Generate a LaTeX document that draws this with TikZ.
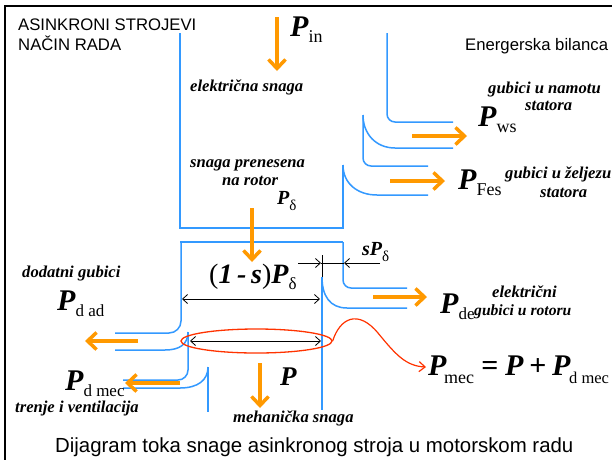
\documentclass[tikz,border=0pt]{standalone}
\usepackage{fontspec}
\setmainfont{Liberation Serif}
\newfontfamily\arialf{Liberation Sans}
\usetikzlibrary{arrows.meta,shapes.geometric}
\definecolor{flowblue}{RGB}{51,153,255}
\definecolor{flowor}{RGB}{255,153,0}
\definecolor{flowred}{RGB}{255,51,0}
\newcommand{\lowsub}[2][18]{\raisebox{-6pt}{\normalfont\fontsize{#1}{#1}\selectfont #2}}
\tikzset{
 wall/.style={draw=flowblue, line width=1.5pt},
 oarrow/.style={draw=flowor, line width=3.5pt, -{Straight Barb[length=9pt,width=17pt]}},
 dim/.style={draw=black, line width=0.8pt},
 dimhead/.style={dim, -{Straight Barb[length=5pt,width=9pt]}},
 dimboth/.style={dim, {Straight Barb[length=5pt,width=9pt]}-{Straight Barb[length=5pt,width=9pt]}},
 head/.style={font=\arialf\fontsize{16.7}{18}\selectfont, anchor=base west, inner sep=0},
 lbl/.style={font=\bfseries\itshape\fontsize{16.6}{17}\selectfont, anchor=base west, inner sep=0},
 bigp/.style={font=\bfseries\itshape\fontsize{30}{30}\selectfont, anchor=base west, inner sep=0},
 midp/.style={font=\bfseries\itshape\fontsize{20}{20}\selectfont, anchor=base west, inner sep=0},
 subs/.style={font=\fontsize{18}{18}\selectfont, anchor=base west, inner sep=0},
}
\begin{document}
\begin{tikzpicture}[x=1pt,y=-1pt]
\useasboundingbox (0,0) rectangle (612,459);
\clip (0,0) rectangle (612,459);
\fill[white] (0,0) rectangle (612,459);
\draw[line width=2pt] (5,470) -- (5,6) -- (620,6);

% stator channel walls
\draw[wall] (180,33) -- (180,228) -- (343,228) -- (343,165);
\draw[wall] (343,165) .. controls (343,183) and (357,195) .. (377,195) -- (428,195);
\draw[wall, rounded corners=8pt] (387,33) -- (387,122) -- (453,122);
\draw[wall] (363,115) .. controls (363,134) and (376,148) .. (395,148) -- (453,148);
\draw[wall, rounded corners=8pt] (363,115) -- (363,166) -- (428,166);
% rotor channel walls
\draw[wall] (180.3,242) -- (343,242);
\draw[wall, rounded corners=8pt] (343,242) -- (343,288) -- (407,288);
\draw[wall] (322,277) .. controls (322,296) and (330,308) .. (347,308) -- (407,308);
\draw[wall] (322,277) -- (322,410);
\draw[wall, rounded corners=12pt] (181,242) -- (181,333) -- (115,333);
\draw[wall] (188,332) .. controls (188,344) and (180,350) .. (165,350) -- (115,350);
\draw[wall, rounded corners=10pt] (188,332) -- (188,380) -- (123,380);
\draw[wall] (208,367) .. controls (208,380) and (198,388) .. (180,388) -- (123,388);
\draw[wall] (208,367) -- (208,412);

% orange flow arrows
\coordinate (pinA) at (277,17);   \coordinate (pinB) at (277,71);
\coordinate (pdA) at (252,208);   \coordinate (pdB) at (252,262);
\coordinate (pA) at (260,363);    \coordinate (pB) at (260,408);
\coordinate (wsA) at (412,136);   \coordinate (wsB) at (467,136);
\coordinate (feA) at (390,181);   \coordinate (feB) at (445,181);
\coordinate (deA) at (373,297);   \coordinate (deB) at (427,297);
\coordinate (adA) at (138,341);   \coordinate (adB) at (85,341);
\coordinate (mcA) at (180,383);   \coordinate (mcB) at (125,383);
\foreach \a/\b in {pinA/pinB,pdA/pdB,pA/pB,wsA/wsB,feA/feB,deA/deB,adA/adB,mcA/mcB}
  \draw[oarrow] (\a) -- (\b);

% black dimension arrows
\coordinate (d1l) at (182,299);  \coordinate (d1r) at (320,299);
\draw[dimboth] (d1l) -- (d1r);
\coordinate (tk1) at (322,255);  \coordinate (tk2) at (322,277);
\draw[dim] (tk1) -- (tk2);
\coordinate (sa) at (298,263); \coordinate (sb) at (321,263);
\coordinate (sc) at (380,263); \coordinate (sd) at (344,263);
\draw[dimhead] (sa) -- (sb);
\draw[dim] (sb) -- (sd);
\draw[dimhead] (sc) -- (sd);
\coordinate (m1) at (190,341); \coordinate (m2) at (321,341);
\draw[dimboth] (m1) -- (m2);

% red ellipse and curved arrow
\node[ellipse, draw=flowred, line width=1.3pt, minimum width=151pt, minimum height=24pt, inner sep=0] (ell) at (256.5,341) {};
\coordinate (pmecTip) at (426,367);
\draw[flowred, line width=1.2pt, -{Straight Barb[length=6pt,width=10pt]}] (ell.east) .. controls (340,318) and (358,309) .. (378,333) .. controls (396,355) and (406,366) .. (pmecTip);

% headers
\node[head] (h1) at (18,30) {ASINKRONI STROJEVI};
\node[head] (h2) at (18,50) {NAČIN RADA};
\node[head] (h3) at (465,50) {Energerska bilanca};
\node[font=\arialf\fontsize{20.4}{22}\selectfont, anchor=base west, inner sep=0] (cap) at (55,452) {Dijagram toka snage asinkronog stroja u motorskom radu};

% stator labels
\node[bigp] (pin) at (290,36) {P\lowsub{in}};
\node[lbl] (el) at (190,91) {električna snaga};
\node[lbl] (sp) at (190,167) {snaga prenesena};
\node[lbl] (nr) at (222,185) {na rotor};
\node[midp] (pdel) at (277,204) {P\lowsub[15]{δ}};
\node[lbl] (gn) at (488,93) {gubici u namotu};
\node[lbl] (st1) at (525,110) {statora};
\node[bigp] (pws) at (478,126) {P\lowsub{ws}};
\node[lbl] (gz) at (505,178) {gubici u željezu};
\node[lbl] (st2) at (540,197) {statora};
\node[bigp] (pfe) at (458,189) {P\lowsub{Fes}};

% rotor labels
\node[anchor=base west, inner sep=0, font=\fontsize{28}{28}\selectfont] (ones) at (209,283) {(\textbf{\textit{1\,-\,s}})\textbf{\textit{P}}\lowsub[17]{δ}};
\node[midp] (sP) at (362,255) {sP\lowsub[15]{δ}};
\node[lbl] (elr) at (492,297) {električni};
\node[bigp] (pde) at (440,313) {P\lowsub[17]{de}};
\node[lbl, font=\bfseries\itshape\fontsize{15.6}{17}\selectfont] (gr) at (474,315) {gubici u rotoru};
\node[bigp] (pm1) at (428,375) {P};
\node[subs] (pm1s) at (444,383) {mec};
\node[bigp] (eq) at (481,375) {=};
\node[bigp] (pm2) at (505,375) {P};
\node[bigp] (pl) at (529,375) {+};
\node[bigp] (pm3) at (552,375) {P};
\node[subs, font=\fontsize{16.5}{17}\selectfont] (pm3s) at (569,383) {d mec};
\node[font=\bfseries\itshape\fontsize{27}{27}\selectfont, anchor=base west, inner sep=0] (pmech) at (280,385) {P};
\node[lbl] (mh) at (233,422) {mehanička snaga};
\node[lbl] (dg) at (22,277) {dodatni gubici};
\node[bigp] (pdad) at (57,310) {P\lowsub[17]{d ad}};
\node[bigp] (pdmec) at (65,390) {P\lowsub[17]{d mec}};
\node[lbl] (tv) at (15,412) {trenje i ventilacija};
\end{tikzpicture}
\end{document}
